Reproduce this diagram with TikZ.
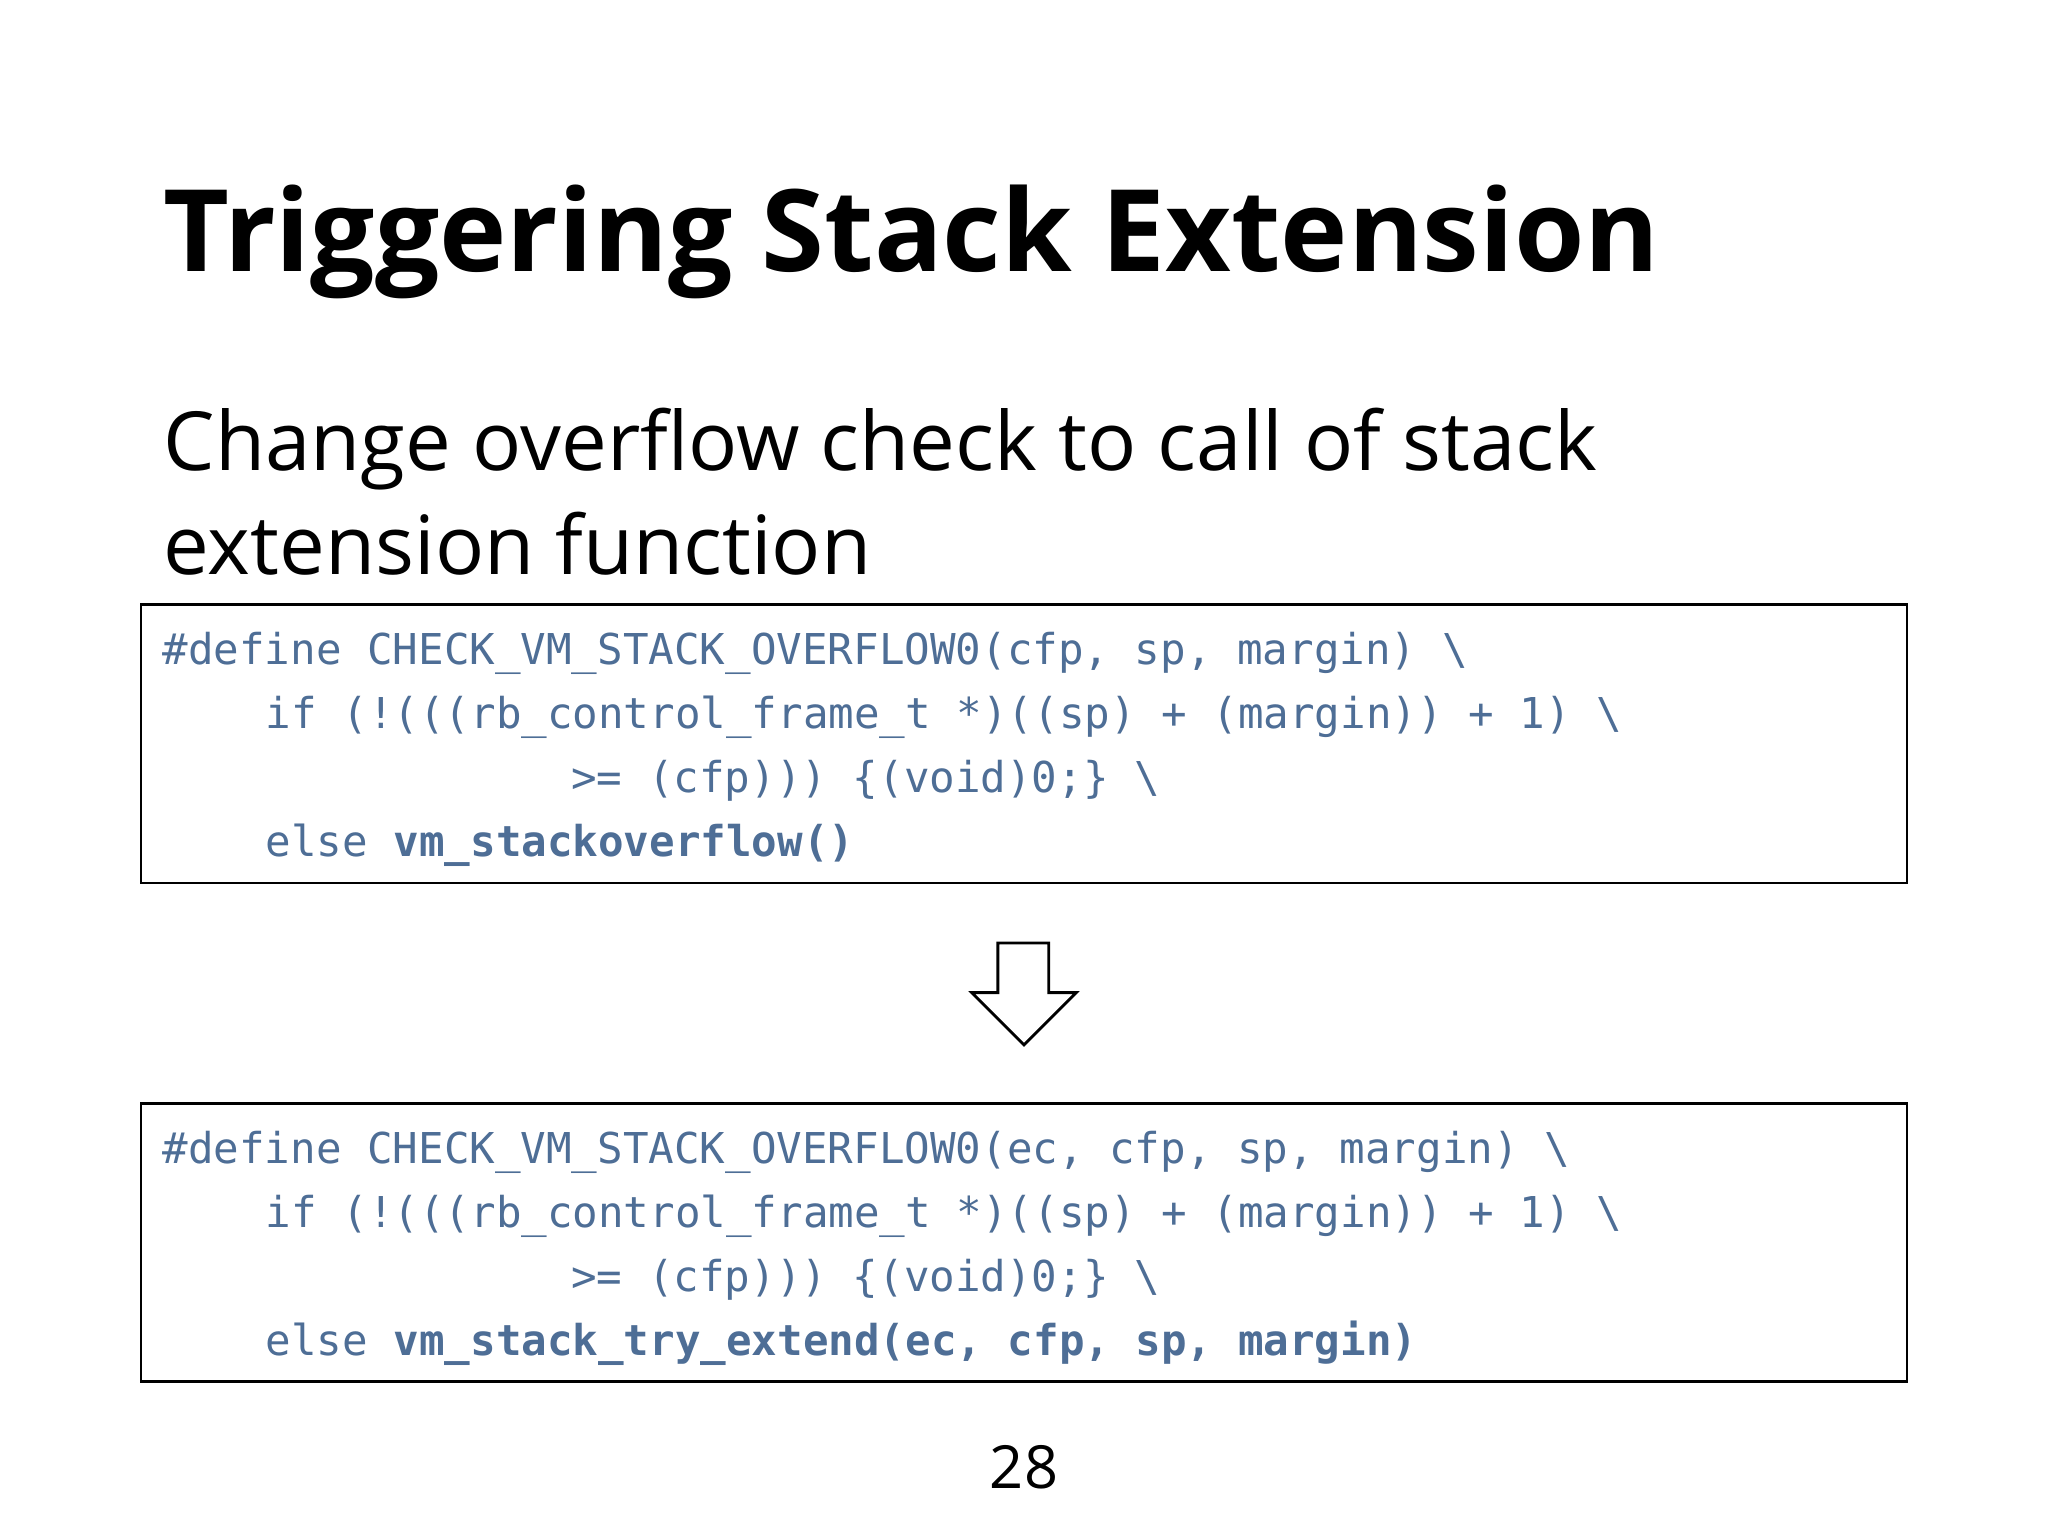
\documentclass[tikz,border=0pt]{standalone}
\usepackage{fontspec}
\setmainfont{Open Sans}
\setmonofont{DejaVu Sans Mono}
\definecolor{codeblue}{HTML}{4E6E96}
\tikzset{
  slidetext/.style={anchor=base west, inner sep=0pt},
  codeline/.style={anchor=base west, inner sep=0pt, text=codeblue, font=\fontsize{15}{18}\selectfont\ttfamily},
  codebox/.style={draw, line width=1pt},
}
\begin{document}
\begin{tikzpicture}[x=0.16199mm, y=-0.16199mm]
\useasboundingbox[fill=white] (0,0) rectangle (1568,1176);
% title and subtitle
\node[slidetext, font=\fontsize{40.2}{48}\selectfont\bfseries] (title) at (125,208) {Triggering Stack Extension};
\node[slidetext, font=\fontsize{28.8}{36.7}\selectfont] (sub1) at (125,360) {Change overflow check to call of stack};
\node[slidetext, font=\fontsize{28.8}{36.7}\selectfont] (sub2) at (125,440) {extension function};

% old check
\draw[codebox] (108,463) rectangle (1460,676);
\node[codeline] (old1) at (124,509) {\#define CHECK\_VM\_STACK\_OVERFLOW0(cfp, sp, margin) \textbackslash};
\node[codeline] (old2) at (203,558) {if (!(((rb\_control\_frame\_t *)((sp) + (margin)) + 1) \textbackslash};
\node[codeline] (old3) at (437,607) {>= (cfp))) \{(void)0;\} \textbackslash};
\node[codeline] (old4) at (203,656) {else \textbf{vm\_stackoverflow()}};

% arrow
\draw[line width=1pt, line join=miter] (764,722) -- (803,722) -- (803,760) -- (824,760)
  -- (784,800) -- (744,760) -- (764,760) -- cycle;

% new check
\draw[codebox] (108,845) rectangle (1460,1058);
\node[codeline] (new1) at (124,891) {\#define CHECK\_VM\_STACK\_OVERFLOW0(ec, cfp, sp, margin) \textbackslash};
\node[codeline] (new2) at (203,940) {if (!(((rb\_control\_frame\_t *)((sp) + (margin)) + 1) \textbackslash};
\node[codeline] (new3) at (437,989) {>= (cfp))) \{(void)0;\} \textbackslash};
\node[codeline] (new4) at (203,1038) {else \textbf{vm\_stack\_try\_extend(ec, cfp, sp, margin)}};

% page number
\node[anchor=base, inner sep=0pt, font=\fontsize{21}{25}\selectfont] (page) at (784,1140) {28};
\end{tikzpicture}
\end{document}
